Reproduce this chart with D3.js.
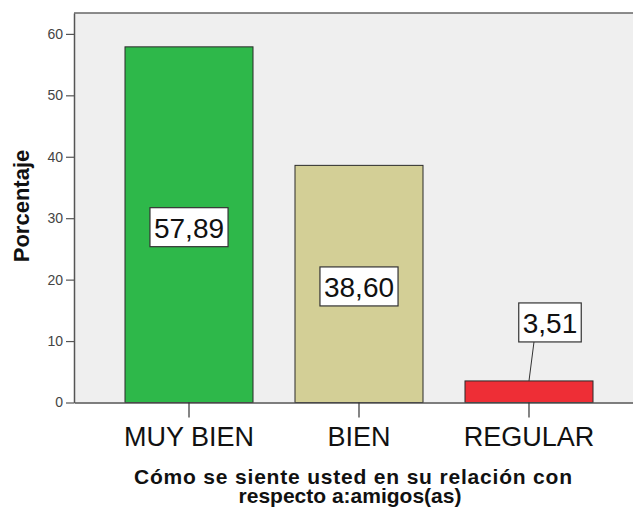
<!DOCTYPE html>
<html>
<head>
<meta charset="UTF-8">
<script src="https://d3js.org/d3.v7.min.js"></script>
<style>
  body { margin:0; background:#fff; }
  text { font-family: Arial, "Liberation Sans", sans-serif; }
</style>
</head>
<body>
<div id="chart"></div>
<script>
// data
const categories = ['MUY BIEN', 'BIEN', 'REGULAR'];
const values = [57.89, 38.60, 3.51];
const valueLabels = ['57,89', '38,60', '3,51'];
const barColors = ['#2eb84a', '#d3cf96', '#ee2e36'];
const yTicks = [0, 10, 20, 30, 40, 50, 60];
const xTitleLines = ['Cómo se siente usted en su relación con', 'respecto a:amigos(as)'];

const W = 633, H = 513;
const plot = {left:74, right:644, top:13, bottom:402.5};

const svg = d3.select('#chart').append('svg')
  .attr('width', W).attr('height', H);

const x = d3.scaleBand().domain(categories)
  .range([plot.left, plot.right])
  .paddingInner(0.247).paddingOuter(0.3);
const y = d3.scaleLinear().domain([0, 63.4]).range([plot.bottom, plot.top]);

// plot background
svg.append('rect')
  .attr('x', plot.left).attr('y', plot.top)
  .attr('width', plot.right - plot.left).attr('height', plot.bottom - plot.top)
  .attr('fill', '#efefef');

// top border
svg.append('line')
  .attr('x1', plot.left).attr('x2', plot.right)
  .attr('y1', plot.top).attr('y2', plot.top)
  .attr('stroke', '#666').attr('stroke-width', 1.5);

// bars
svg.selectAll('rect.bar').data(values).enter().append('rect')
  .attr('class','bar')
  .attr('x', (d,i) => x(categories[i]))
  .attr('y', d => y(d))
  .attr('width', x.bandwidth())
  .attr('height', d => y(0) - y(d))
  .attr('fill', (d,i) => barColors[i])
  .attr('stroke', '#2a2a2a').attr('stroke-width', 1);

// y axis
const yAxis = d3.axisLeft(y).tickValues(yTicks).tickSize(8).tickSizeOuter(0).tickPadding(3);
const gy = svg.append('g').attr('transform', `translate(${plot.left},0)`).call(yAxis);
gy.select('.domain').attr('stroke', '#555').attr('stroke-width', 1.5);
gy.selectAll('.tick line').attr('stroke', '#555').attr('stroke-width', 1.2);
gy.selectAll('.tick text').attr('font-size', 14).attr('fill', '#444')
  .attr('font-family', 'Arial, "Liberation Sans", sans-serif');

// x axis
const xAxis = d3.axisBottom(x).tickSize(15).tickSizeOuter(0).tickPadding(9);
const gx = svg.append('g').attr('transform', `translate(0,${plot.bottom})`).call(xAxis);
gx.select('.domain').attr('stroke', '#555').attr('stroke-width', 1.5);
gx.selectAll('.tick line').attr('stroke', '#333').attr('stroke-width', 1.2);
gx.selectAll('.tick text').attr('font-size', 27).attr('fill', '#111')
  .attr('font-family', 'Arial, "Liberation Sans", sans-serif')
  .attr('dy', '0.72em');

// value labels
const lbl = svg.append('g');
values.forEach((v, i) => {
  const cx = x(categories[i]) + x.bandwidth() / 2;
  const barH = y(0) - y(v);
  const small = barH < 40;
  const bx = small ? cx + 21 : cx;
  const by = small ? y(v) - 58 : (y(v) + y(0)) / 2 + 3;
  const g = lbl.append('g');
  if (small) {
    g.append('line')
      .attr('x1', cx + 5).attr('y1', by + 19)
      .attr('x2', cx).attr('y2', y(v))
      .attr('stroke', '#333').attr('stroke-width', 1);
  }
  const box = g.append('rect').attr('fill', '#fff').attr('stroke', '#333').attr('stroke-width', 1.2);
  const t = g.append('text')
    .attr('x', bx).attr('y', by)
    .attr('text-anchor', 'middle').attr('dy', '0.36em')
    .attr('font-size', 28).attr('fill', '#111')
    .text(valueLabels[i]);
  const w = t.node().getComputedTextLength() + 8;
  box.attr('x', bx - w / 2).attr('y', by - 20).attr('width', w).attr('height', 39);
});

// axis titles
svg.append('text')
  .attr('transform', 'translate(29,206) rotate(-90)')
  .attr('text-anchor', 'middle')
  .attr('font-size', 22).attr('font-weight', 'bold').attr('fill', '#111')
  .text('Porcentaje');

const xt = svg.append('text')
  .attr('text-anchor', 'middle')
  .attr('font-size', 21).attr('font-weight', 'bold').attr('fill', '#111');
xt.append('tspan').attr('x', 353).attr('y', 484)
  .attr('textLength', 438).attr('lengthAdjust', 'spacing')
  .text(xTitleLines[0]);
xt.append('tspan').attr('x', 350).attr('y', 503).text(xTitleLines[1]);
</script>
</body>
</html>
